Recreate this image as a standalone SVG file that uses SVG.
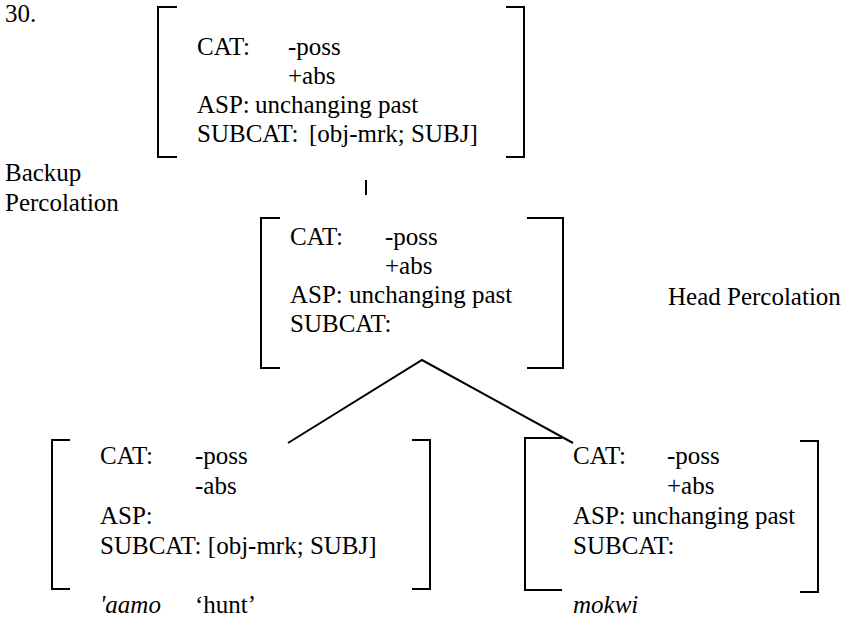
<svg xmlns="http://www.w3.org/2000/svg" width="850" height="626" viewBox="0 0 850 626">
<rect width="850" height="626" fill="#fff"/>
<text x="5" y="22" font-size="25" font-family="Liberation Serif">30.</text>
<text x="5" y="181" font-size="25" font-family="Liberation Serif">Backup</text>
<text x="5" y="211" font-size="25" font-family="Liberation Serif">Percolation</text>
<text x="668" y="305" font-size="25" font-family="Liberation Serif">Head Percolation</text>
<g id="top">
<path fill="none" stroke="#000" stroke-width="2" d="M177,7H158V157H177M506,7H524V157H506"/>
<text x="197" y="55" font-size="25" font-family="Liberation Serif">CAT:</text>
<text x="288" y="55" font-size="25" font-family="Liberation Serif">-poss</text>
<text x="288" y="84" font-size="25" font-family="Liberation Serif">+abs</text>
<text x="197" y="113" font-size="25" font-family="Liberation Serif">ASP:</text>
<text x="255" y="113" font-size="25" font-family="Liberation Serif">unchanging past</text>
<text x="197" y="142" font-size="25" font-family="Liberation Serif">SUBCAT:</text>
<text x="309" y="142" font-size="25" font-family="Liberation Serif">[obj-mrk; SUBJ]</text>
</g>
<g id="middle">
<path fill="none" stroke="#000" stroke-width="2" d="M280,218H261V368H280M527,218H563V368H527"/>
<text x="290" y="245" font-size="25" font-family="Liberation Serif">CAT:</text>
<text x="385" y="245" font-size="25" font-family="Liberation Serif">-poss</text>
<text x="385" y="274" font-size="25" font-family="Liberation Serif">+abs</text>
<text x="290" y="303" font-size="25" font-family="Liberation Serif">ASP: unchanging past</text>
<text x="290" y="332" font-size="25" font-family="Liberation Serif">SUBCAT:</text>
</g>
<g id="left">
<path fill="none" stroke="#000" stroke-width="2" d="M70,440H52V589H70M412,440H430V589H412"/>
<text x="100" y="464" font-size="25" font-family="Liberation Serif">CAT:</text>
<text x="195" y="464" font-size="25" font-family="Liberation Serif">-poss</text>
<text x="195" y="494" font-size="25" font-family="Liberation Serif">-abs</text>
<text x="100" y="524" font-size="25" font-family="Liberation Serif">ASP:</text>
<text x="100" y="554" font-size="25" font-family="Liberation Serif">SUBCAT: [obj-mrk; SUBJ]</text>
<text x="100" y="613" font-size="25" font-family="Liberation Serif" font-style="italic">'aamo</text>
<text x="195" y="613" font-size="25" font-family="Liberation Serif">‘hunt’</text>
</g>
<g id="right">
<path fill="none" stroke="#000" stroke-width="2" d="M562,438H525V590H562M800,441H818V592H800"/>
<text x="573" y="464" font-size="25" font-family="Liberation Serif">CAT:</text>
<text x="667" y="464" font-size="25" font-family="Liberation Serif">-poss</text>
<text x="667" y="494" font-size="25" font-family="Liberation Serif">+abs</text>
<text x="573" y="524" font-size="25" font-family="Liberation Serif">ASP: unchanging past</text>
<text x="573" y="554" font-size="25" font-family="Liberation Serif">SUBCAT:</text>
<text x="573" y="613" font-size="25" font-family="Liberation Serif" font-style="italic">mokwi</text>
</g>
<g id="connectors" fill="none" stroke="#000" stroke-width="2">
<line x1="366" y1="180" x2="366" y2="195"/>
<polyline points="288,443 422,360 573,443"/>
</g>
</svg>
